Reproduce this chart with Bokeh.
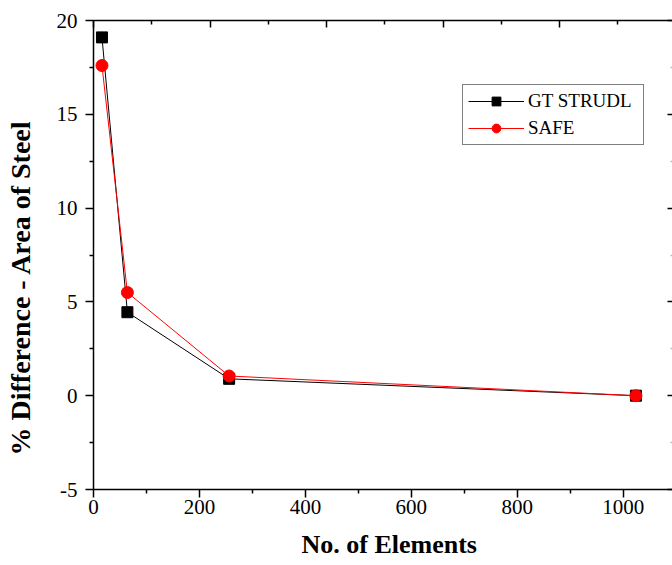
from bokeh.plotting import figure
from bokeh.models import Range1d, LinearAxis, FixedTicker, Legend, LegendItem, Title
from bokeh.embed import file_html
from bokeh.resources import INLINE

# ---- data ----
elements = [16, 64, 256, 1024]
gt_strudl = [19.1, 4.45, 0.9, 0.0]
safe = [17.6, 5.5, 1.05, 0.0]

x_ticks = [0, 200, 400, 600, 800, 1000]
x_minor = [100, 300, 500, 700, 900]
y_ticks = [-5, 0, 5, 10, 15, 20]
y_minor = [-2.5, 2.5, 7.5, 12.5, 17.5]
top_ticks = [0, 220, 440, 660, 880, 1100]
top_minor = [110, 330, 550, 770, 990]

x_label = "No. of Elements"
y_label = "% Difference - Area of Steel"
series_names = ["GT STRUDL", "SAFE"]

FONT = "Liberation Serif"

X0, X1 = 0, 1093
Y0, Y1 = -5, 20
W, H = 672, 565

p = figure(width=W, height=H, output_backend="svg", toolbar_location=None,
           x_range=Range1d(X0, X1), y_range=Range1d(Y0, Y1),
           min_border_left=93, min_border_top=20, min_border_bottom=76,
           min_border_right=0)
p.outline_line_color = None
p.grid.visible = False
p.background_fill_color = "white"
p.border_fill_color = "white"


def ticks_only_axis(ticks, length, color="black", line=False):
    """An axis that draws only inward tick marks (as minor ticks, no labels)."""
    ax = LinearAxis(ticker=FixedTicker(ticks=[], minor_ticks=ticks))
    ax.axis_line_color = "black" if line else None
    ax.axis_line_width = 1.5
    ax.major_tick_in = 0
    ax.major_tick_out = 0
    ax.minor_tick_in = length
    ax.minor_tick_out = 0
    ax.minor_tick_line_color = color
    ax.minor_tick_line_width = 1.5
    return ax


def spacer_axis(gap, at):
    """An invisible axis that only reserves `gap` pixels of space."""
    ax = LinearAxis(ticker=FixedTicker(ticks=[], minor_ticks=[at]))
    ax.axis_line_color = None
    ax.major_tick_line_color = None
    ax.minor_tick_line_color = None
    ax.major_tick_in = 0
    ax.major_tick_out = gap
    ax.minor_tick_in = 0
    ax.minor_tick_out = gap
    return ax


def style_axis(ax):
    ax.axis_line_width = 1.5
    ax.axis_line_color = "black"
    ax.major_tick_line_width = 1.5
    ax.minor_tick_line_width = 1.5
    ax.major_tick_line_color = "black"
    ax.minor_tick_line_color = "black"
    ax.major_tick_in = 0
    ax.major_tick_out = 8
    ax.minor_tick_in = 0
    ax.minor_tick_out = 4
    ax.major_label_text_font = FONT
    ax.major_label_text_color = "black"
    ax.major_label_text_font_size = "21px"


xa = p.xaxis[0]
xa.ticker = FixedTicker(ticks=x_ticks, minor_ticks=x_minor)
style_axis(xa)
xa.major_label_standoff = 2

ya = p.yaxis[0]
ya.ticker = FixedTicker(ticks=y_ticks, minor_ticks=y_minor)
style_axis(ya)
ya.major_label_standoff = 8
ya.major_label_overrides = {t: str(t) for t in y_ticks}

# top frame edge with inward ticks
p.add_layout(ticks_only_axis(top_ticks, 7, line=True), "above")
p.add_layout(ticks_only_axis(top_minor, 4), "above")
# right frame edge with inward ticks
p.add_layout(ticks_only_axis(y_ticks, 5), "right")
p.add_layout(ticks_only_axis(y_minor, 2, color="#bbbbbb"), "right")

# axis titles, placed outside spacer gaps
p.add_layout(spacer_axis(18, y_ticks[1]), "left")
p.add_layout(Title(text=y_label, align="left", offset=34, standoff=0,
                   text_font=FONT, text_font_size="28px",
                   text_font_style="bold", text_color="black"), "left")
p.add_layout(spacer_axis(11, x_ticks[1]), "below")
p.add_layout(Title(text=x_label, align="left", offset=208, standoff=0,
                   text_font=FONT, text_font_size="26px",
                   text_font_style="bold", text_color="black"), "below")

# series
l1 = p.line(elements, gt_strudl, line_color="black", line_width=1)
s1 = p.scatter(elements, gt_strudl, marker="square", size=11,
               fill_color="black", line_color="black")
l2 = p.line(elements, safe, line_color="red", line_width=1)
s2 = p.scatter(elements, safe, marker="circle", size=12,
               fill_color="red", line_color="red")

legend = Legend(items=[LegendItem(label=series_names[0], renderers=[l1, s1]),
                       LegendItem(label=series_names[1], renderers=[l2, s2])],
                location=(369, 344))
legend.label_text_font = FONT
legend.label_text_font_size = "19px"
legend.label_text_color = "black"
legend.border_line_color = "black"
legend.border_line_width = 1
legend.background_fill_color = "white"
legend.background_fill_alpha = 1
legend.glyph_width = 56
legend.glyph_height = 22
legend.label_height = 22
legend.label_width = 110
legend.label_standoff = 4
legend.spacing = 5
legend.padding = 5
legend.margin = 0
p.add_layout(legend)

open("out.html", "w").write(file_html(p, INLINE))
